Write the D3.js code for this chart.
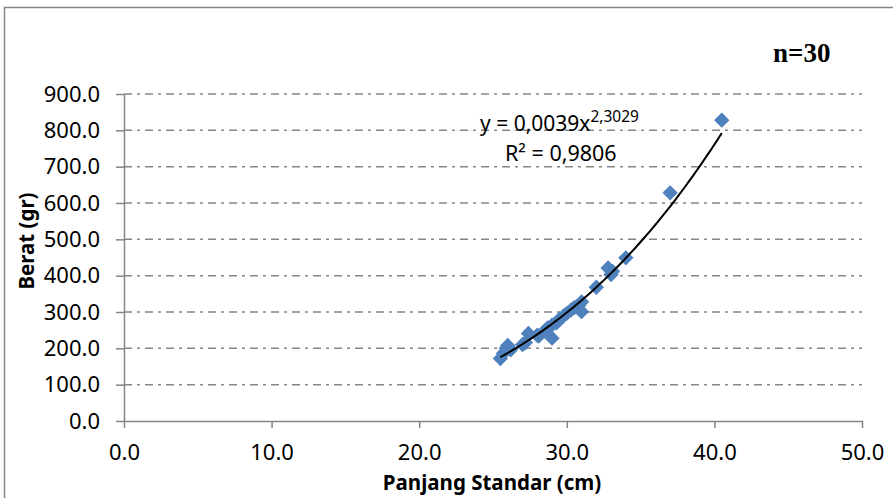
<!DOCTYPE html>
<html lang="en">
  <head>
    <meta charset="utf-8">
    <title>Berat vs Panjang Standar</title>
    <style>
      body { margin: 0; background: #fff; }
      svg { display: block; }
      text { font-family: "Noto Sans", sans-serif; }
    </style>
    <script src="https://d3js.org/d3.v7.min.js"></script>
  </head>
  <body>
    <script>
    // panjang standar (cm) and berat (gr)
    const panjang = [25.5, 25.7, 25.9, 26.0, 26.2, 27.0, 27.2, 27.4, 28.0, 28.1,
                     28.5, 28.7, 29.0, 29.0, 29.3, 29.5, 29.8, 30.0, 30.3, 30.5,
                     30.8, 31.0, 31.0, 32.0, 32.8, 33.0, 33.1, 34.0, 37.0, 40.5];
    const berat   = [172, 186, 200, 208, 196, 210, 216, 241, 236, 234,
                     248, 256, 228, 264, 270, 280, 290, 296, 306, 312,
                     318, 301, 328, 368, 421, 403, 412, 449, 628, 828];
    const xTicks = [0, 10, 20, 30, 40, 50];
    const yTicks = [0, 100, 200, 300, 400, 500, 600, 700, 800, 900];

    const W = 893, H = 498;
    const grey = "#868686", blue = "#4f81bd";

    const x = d3.scaleLinear().domain([0, 50]).range([124, 862]);
    const y = d3.scaleLinear().domain([0, 900]).range([421, 94]);

    const svg = d3.select("body").append("svg")
      .attr("width", W).attr("height", H);

    // chart border
    svg.append("rect")
      .attr("x", 4.5).attr("y", 7.5)
      .attr("width", 900).attr("height", 500)
      .attr("fill", "none").attr("stroke", grey).attr("stroke-width", 1.5);

    // gridlines
    svg.append("g").selectAll("line")
      .data(yTicks.filter(d => d > 0))
      .join("line")
      .attr("x1", x(0)).attr("x2", x(50))
      .attr("y1", d => y(d)).attr("y2", d => y(d))
      .attr("stroke", grey).attr("stroke-width", 1.5)
      .attr("stroke-dasharray", "8,5,3,5");

    const yAxis = svg.append("g")
      .attr("transform", `translate(${x(0)},0)`)
      .call(d3.axisLeft(y).tickValues(yTicks).tickFormat(d3.format(".1f"))
        .tickSize(8).tickPadding(16).tickSizeOuter(0));

    const xAxis = svg.append("g")
      .attr("transform", `translate(0,${y(0)})`)
      .call(d3.axisBottom(x).tickValues(xTicks).tickFormat(d3.format(".1f"))
        .tickSize(7).tickPadding(16).tickSizeOuter(0));

    [xAxis, yAxis].forEach(g => {
      g.select(".domain").attr("stroke", grey).attr("stroke-width", 1.5);
      g.selectAll(".tick line").attr("stroke", grey).attr("stroke-width", 1.5);
      g.selectAll(".tick text")
        .attr("fill", "#000")
        .style("font-size", "22px")
        .style("font-family", "'Noto Sans', sans-serif");
    });

    // power trendline fitted in log space (as the spreadsheet does)
    const lx = panjang.map(Math.log), ly = berat.map(Math.log);
    const mx = d3.mean(lx), my = d3.mean(ly);
    const b = d3.sum(lx, (v, i) => (v - mx) * (ly[i] - my)) / d3.sum(lx, v => (v - mx) ** 2);
    const a = Math.exp(my - b * mx);
    const [x0, x1] = d3.extent(panjang);
    const trend = d3.range(0, 101).map(i => x0 + (x1 - x0) * i / 100);

    // points
    const diamond = d3.symbol().type(d3.symbolDiamond2).size(150);
    svg.append("g").selectAll("path")
      .data(panjang.map((p, i) => [p, berat[i]]))
      .join("path")
      .attr("d", diamond)
      .attr("transform", d => `translate(${x(d[0])},${y(d[1])})`)
      .attr("fill", blue);

    svg.append("path")
      .datum(trend)
      .attr("fill", "none")
      .attr("stroke", "#000")
      .attr("stroke-width", 2)
      .attr("d", d3.line().x(d => x(d)).y(d => y(a * Math.pow(d, b))));

    // equation labels
    const eq = svg.append("text").attr("x", 480).attr("y", 131)
      .style("font-size", "21px");
    eq.append("tspan").text("y = 0,0039x");
    eq.append("tspan").attr("dy", -9).style("font-size", "15.5px").text("2,3029");

    svg.append("text").attr("x", 505).attr("y", 161)
      .style("font-size", "21.5px").text("R² = 0,9806");

    svg.append("text")
      .attr("x", 773).attr("y", 62)
      .style("font-family", "'Liberation Serif', serif")
      .style("font-weight", "bold").style("font-size", "27px")
      .text("n=30");

    // axis titles
    svg.append("text")
      .attr("x", 492).attr("y", 490)
      .attr("text-anchor", "middle")
      .style("font-weight", "bold").style("font-size", "20.5px")
      .text("Panjang Standar (cm)");

    svg.append("text")
      .attr("transform", "translate(34,241) rotate(-90)")
      .attr("text-anchor", "middle")
      .style("font-weight", "bold").style("font-size", "20.5px")
      .text("Berat (gr)");
    </script>
  </body>
</html>
